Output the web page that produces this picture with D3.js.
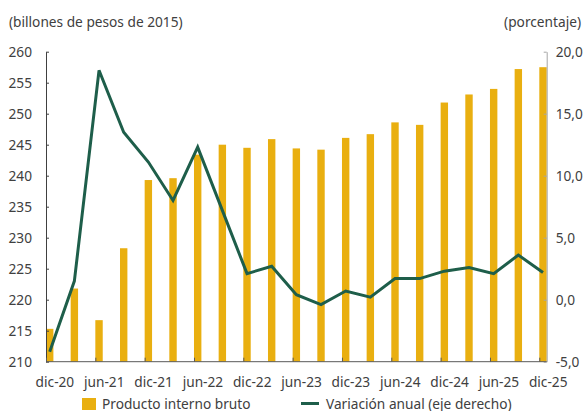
<!DOCTYPE html>
<html>
<head>
<meta charset="utf-8">
<script src="https://cdn.jsdelivr.net/npm/d3@7"></script>
<style>
  body { margin: 0; background: #fff; }
  svg text { font-family: "Noto Sans", sans-serif; fill: #404040; }
</style>
</head>
<body>
<svg id="chart" width="584" height="411"></svg>
<script>
// quarters, dic-20 .. dic-25
const quarters = [
  "dic-20", "mar-21", "jun-21", "sep-21", "dic-21", "mar-22", "jun-22", "sep-22",
  "dic-22", "mar-23", "jun-23", "sep-23", "dic-23", "mar-24", "jun-24", "sep-24",
  "dic-24", "mar-25", "jun-25", "sep-25", "dic-25"
];
// PIB, billones de pesos de 2015
const gdp = [
  215.3, 221.8, 216.7, 228.3, 239.3, 239.6, 243.4, 245.0,
  244.5, 245.9, 244.4, 244.2, 246.1, 246.7, 248.6, 248.2,
  251.8, 253.1, 254.0, 257.2, 257.5
];
// variacion anual (%)
const growth = [
  -4.2, 1.5, 18.5, 13.5, 11.1, 8.0, 12.3, 7.2,
  2.1, 2.7, 0.4, -0.4, 0.7, 0.2, 1.7, 1.7,
  2.3, 2.6, 2.1, 3.6, 2.2
];
const leftTicks = [210, 215, 220, 225, 230, 235, 240, 245, 250, 255, 260];
const rightTicks = [-5, 0, 5, 10, 15, 20];
const xTickLabels = quarters.filter((d, i) => i % 2 === 0);

const plot = { left: 46, right: 546.7, top: 51.7, bottom: 361.7 };
const FONT_SIZE = 13.7;
const BAR_COLOR = "#E9AF10";
const LINE_COLOR = "#1E5E4A";

const svg = d3.select("#chart");

const x = d3.scaleBand()
    .domain(quarters)
    .range([plot.left, plot.right])
    .paddingInner(0.7)
    .paddingOuter(0);

// ticks sit on the left edge of each band
const xTick = d3.scalePoint()
    .domain(quarters)
    .range([x(quarters[0]), x(quarters[quarters.length - 1])]);

const yLeft = d3.scaleLinear().domain([210, 260]).range([plot.bottom, plot.top]);
const yRight = d3.scaleLinear().domain([-5, 20]).range([plot.bottom, plot.top]);

svg.append("defs").append("clipPath").attr("id", "plot-clip")
  .append("rect")
    .attr("x", plot.left).attr("y", 0)
    .attr("width", plot.right - plot.left).attr("height", plot.bottom);

// bars
svg.append("g")
  .selectAll("rect")
  .data(quarters)
  .join("rect")
    .attr("x", d => x(d))
    .attr("y", (d, i) => yLeft(gdp[i]))
    .attr("width", x.bandwidth())
    .attr("height", (d, i) => plot.bottom - yLeft(gdp[i]))
    .attr("fill", BAR_COLOR);

// line
const line = d3.line()
    .x(d => x(d[0]) + x.bandwidth() / 2)
    .y(d => yRight(d[1]));

svg.append("path")
    .datum(quarters.map((q, i) => [q, growth[i]]))
    .attr("clip-path", "url(#plot-clip)")
    .attr("fill", "none")
    .attr("stroke", LINE_COLOR)
    .attr("stroke-width", 3)
    .attr("stroke-linejoin", "miter")
    .attr("d", line);

// left axis
const gLeft = svg.append("g")
    .attr("transform", `translate(${plot.left},0)`)
    .call(d3.axisLeft(yLeft).tickValues(leftTicks).tickSize(-3).tickSizeOuter(0).tickPadding(14));
gLeft.select(".domain").attr("stroke", "#404040");
gLeft.selectAll(".tick line").attr("stroke", "#404040");
gLeft.selectAll("text").attr("font-size", FONT_SIZE).attr("fill", "#404040").attr("font-family", null);

// right axis
const gRight = svg.append("g")
    .attr("transform", `translate(${plot.right},0)`)
    .call(d3.axisRight(yRight).tickValues(rightTicks).tickSize(-3).tickSizeOuter(0).tickPadding(9)
      .tickFormat(d => d3.format(".1f")(d).replace(".", ",").replace("−", "-")));
gRight.select(".domain").attr("stroke", "#a6a6a6");
gRight.selectAll(".tick line").attr("stroke", "#a6a6a6");
gRight.selectAll("text").attr("font-size", FONT_SIZE).attr("fill", "#404040").attr("font-family", null);

// bottom axis
const gBottom = svg.append("g")
    .attr("transform", `translate(0,${plot.bottom})`)
    .call(d3.axisBottom(xTick).tickValues(xTickLabels).tickSize(-4).tickSizeOuter(0).tickPadding(16));
gBottom.select(".domain").remove();
gBottom.append("line")
    .attr("x1", plot.left).attr("x2", plot.right)
    .attr("stroke", "#595959");
gBottom.selectAll(".tick line").attr("stroke", "#595959");
gBottom.selectAll("text")
    .attr("dx", x.bandwidth() + 1)
    .attr("font-size", FONT_SIZE).attr("fill", "#404040").attr("font-family", null);

// axis titles
svg.append("text")
    .attr("x", 9).attr("y", 27)
    .attr("font-size", FONT_SIZE)
    .text("(billones de pesos de 2015)");
svg.append("text")
    .attr("x", 581).attr("y", 27)
    .attr("text-anchor", "end")
    .attr("font-size", FONT_SIZE)
    .text("(porcentaje)");

// legend
const legend = svg.append("g");
legend.append("rect")
    .attr("x", 82).attr("y", 398).attr("width", 14).attr("height", 12)
    .attr("fill", BAR_COLOR);
legend.append("text")
    .attr("x", 102).attr("y", 408.5)
    .attr("font-size", FONT_SIZE)
    .text("Producto interno bruto");
legend.append("line")
    .attr("x1", 301).attr("x2", 319).attr("y1", 403.5).attr("y2", 403.5)
    .attr("stroke", LINE_COLOR).attr("stroke-width", 3);
legend.append("text")
    .attr("x", 326).attr("y", 408.5)
    .attr("font-size", FONT_SIZE)
    .text("Variación anual (eje derecho)");
</script>
</body>
</html>
